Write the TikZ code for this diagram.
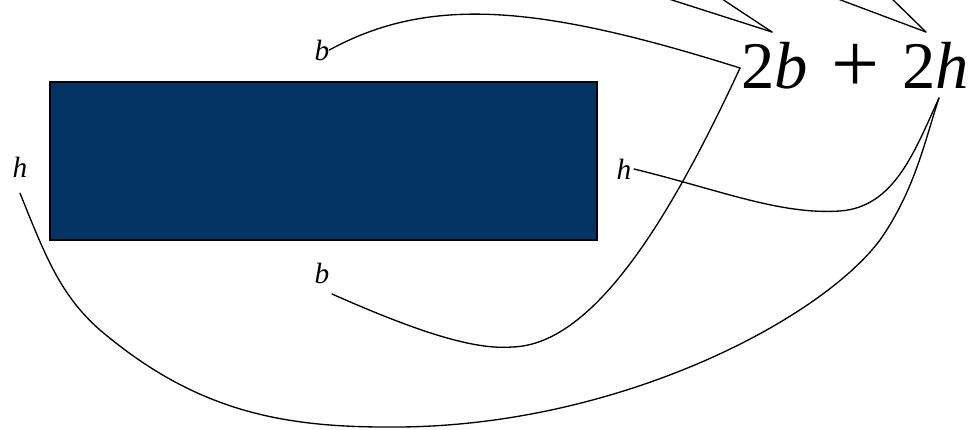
\documentclass[tikz,border=0pt]{standalone}
\usepackage{fontspec}
\setmainfont{Liberation Serif}
\usepackage{xcolor}
\definecolor{rectnavy}{RGB}{3,52,99}

\begin{document}
\begin{tikzpicture}[
  x=0.75pt, y=-0.75pt,
  % Global node styling
  every node/.style={inner sep=0pt, outer sep=0pt},
  % Specific styles
  side/.style={font=\fontsize{22}{22}\selectfont\itshape},
  sum/.style={font=\fontsize{50}{50}\selectfont, anchor=base west},
  link/.style={line width=1pt, line cap=round}
]
\useasboundingbox (0,0) rectangle (971,429);

% the rectangle
\draw[line width=1.3pt, fill=rectnavy] (50,82) rectangle (597,240);

% side labels
\node[side] (btop) at (322,50) {b};
\node[side] (bbot) at (322,273) {b};
\node[side] (hleft) at (20,167) {h};
\node[side] (hright) at (624,169) {h};

% perimeter formula
\node[sum] (perim) at (741,88)
  {2\textit{b}\hspace{5pt} \raisebox{-3pt}{\fontsize{64}{64}\selectfont +} \hspace{5pt}2\textit{h}};
\coordinate (bjoin) at (740,68);
\coordinate (hjoin) at (939,98);
\coordinate (btip) at (772,32);
\coordinate (htip) at (926,32);

% b sides
\draw[link] (btop.east) .. controls (430,-5) and (540,5) .. (bjoin);
\draw[link] ([xshift=2pt,yshift=-8pt]bbot.south east)
  .. controls (420,333) and (475,350) .. (512,347)
  .. controls (590,345) and (665,230) .. (bjoin);
% h sides
\draw[link] ([xshift=2pt]hright.east)
  .. controls (720,190) and (780,215) .. (840,211)
  .. controls (895,207) and (915,150) .. (hjoin);
\draw[link] ([yshift=-12pt]hleft.south)
  .. controls (45,255) and (60,295) .. (100,330)
  .. controls (200,415) and (290,428) .. (400,427)
  .. controls (620,425) and (820,320) .. (880,240)
  .. controls (915,190) and (925,140) .. (hjoin);

% curves coming in from above
\draw[link] (btip) -- (650,-7);
\draw[link] (btip) -- (713,-7);
\draw[link] (htip) -- (822,-7);
\draw[link] (htip) -- (886,-7);

\end{tikzpicture}
\end{document}
